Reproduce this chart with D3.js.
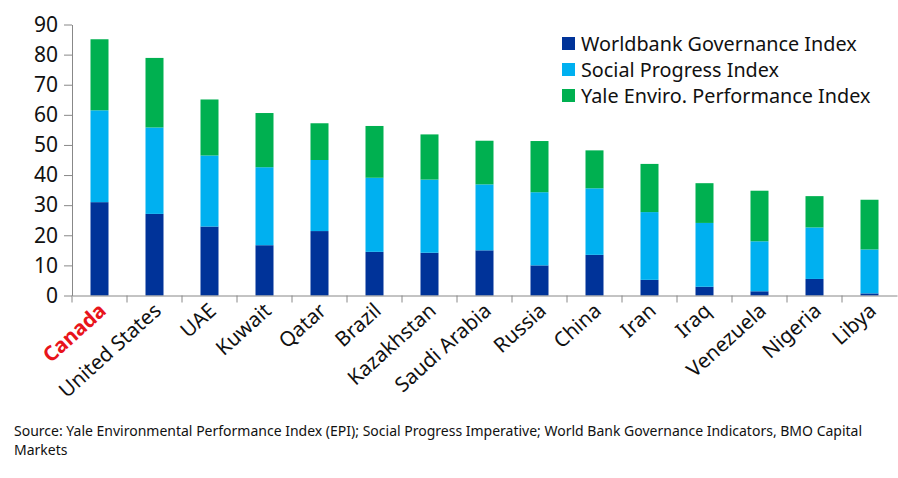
<!DOCTYPE html>
<html><head><meta charset="utf-8">
<script src="https://cdn.jsdelivr.net/npm/d3@7"></script>
<style>body{margin:0;background:#fff}text{font-family:"Noto Sans","Open Sans",sans-serif}</style>
</head><body>
<svg width="898" height="478"></svg>
<script>
var countries = ["Canada","United States","UAE","Kuwait","Qatar","Brazil","Kazakhstan","Saudi Arabia","Russia","China","Iran","Iraq","Venezuela","Nigeria","Libya"];
var worldbank = [31.0,27.1,22.9,16.7,21.4,14.5,14.2,15.0,10.0,13.5,5.2,2.9,1.4,5.5,0.7];
var social = [30.5,28.7,23.6,25.9,23.6,24.6,24.3,21.9,24.3,22.1,22.5,21.2,16.6,17.1,14.6];
var yale = [23.6,23.1,18.6,18.0,12.2,17.2,15.0,14.5,17.0,12.6,16.0,13.2,16.8,10.4,16.5];
var seriesNames = ["Worldbank Governance Index","Social Progress Index","Yale Enviro. Performance Index"];
var colors = ["#003399","#00b0f0","#00b050"];
var yTicks = [0,10,20,30,40,50,60,70,80,90];

var svg = d3.select("svg");
var margin = {top: 24.5, left: 72, right: 1, bottom: 478 - 295.5};
var width = 898 - margin.left - margin.right;
var height = 478 - margin.top - margin.bottom;
var g = svg.append("g").attr("transform", "translate(" + margin.left + "," + margin.top + ")");

var x = d3.scaleBand().domain(countries).range([0, width]);
var y = d3.scaleLinear().domain([0, 90]).range([height, 0]);

var rows = countries.map(function(c, i){ return {country: c, w: worldbank[i], s: social[i], y: yale[i]}; });
var stacked = d3.stack().keys(["w","s","y"])(rows);

g.selectAll(".series").data(stacked).enter().append("g")
    .attr("fill", function(d, i){ return colors[i]; })
    .selectAll("rect").data(function(d){ return d; }).enter().append("rect")
    .attr("x", function(d){ return x(d.data.country) + x.bandwidth()/2 - 9; })
    .attr("width", 18)
    .attr("y", function(d){ return y(d[1]); })
    .attr("height", function(d){ return y(d[0]) - y(d[1]); });

// y axis
var yAxis = g.append("g").call(d3.axisLeft(y).tickValues(yTicks).tickSize(8).tickSizeOuter(0));
yAxis.select(".domain").attr("stroke", "#888");
yAxis.selectAll(".tick line").attr("stroke", "#888").attr("x2", -8);
yAxis.selectAll(".tick text").attr("font-size", 21).attr("fill", "#111").attr("x", -14);

// x axis
var xAxis = g.append("g").attr("transform", "translate(0," + height + ")")
    .call(d3.axisBottom(x).tickSize(0).tickSizeOuter(0).tickFormat(""));
xAxis.select(".domain").attr("stroke", "#888");
var sep = countries.map(function(c){ return x(c); });
xAxis.selectAll(".sep").data(sep).enter().append("line")
    .attr("x1", function(d){ return d; }).attr("x2", function(d){ return d; })
    .attr("y1", 0).attr("y2", 7).attr("stroke", "#888");

g.selectAll(".cat").data(countries).enter().append("text")
    .attr("transform", function(d){ return "translate(" + (x(d) + x.bandwidth()/2 + 8) + "," + (height + 17) + ") rotate(-42)"; })
    .attr("text-anchor", "end")
    .attr("font-size", 20.5)
    .attr("font-weight", function(d, i){ return i === 0 ? "bold" : "normal"; })
    .attr("fill", function(d, i){ return i === 0 ? "#e8141b" : "#111"; })
    .text(function(d){ return d; });

// legend
var leg = svg.append("g").attr("transform", "translate(562,34)");
seriesNames.forEach(function(n, i){
    var r = leg.append("g").attr("transform", "translate(0," + i*26 + ")");
    r.append("rect").attr("width", 13).attr("height", 13).attr("y", 3).attr("fill", colors[i]);
    r.append("text").attr("x", 19).attr("y", 17).attr("font-size", 19.8).attr("fill", "#111").text(n);
});

svg.append("text").attr("x", 14).attr("y", 436).attr("font-size", 14).attr("fill", "#111")
    .text("Source: Yale Environmental Performance Index (EPI); Social Progress Imperative; World Bank Governance Indicators, BMO Capital");
svg.append("text").attr("x", 14).attr("y", 455).attr("font-size", 14).attr("fill", "#111").text("Markets");
</script>
</body></html>
